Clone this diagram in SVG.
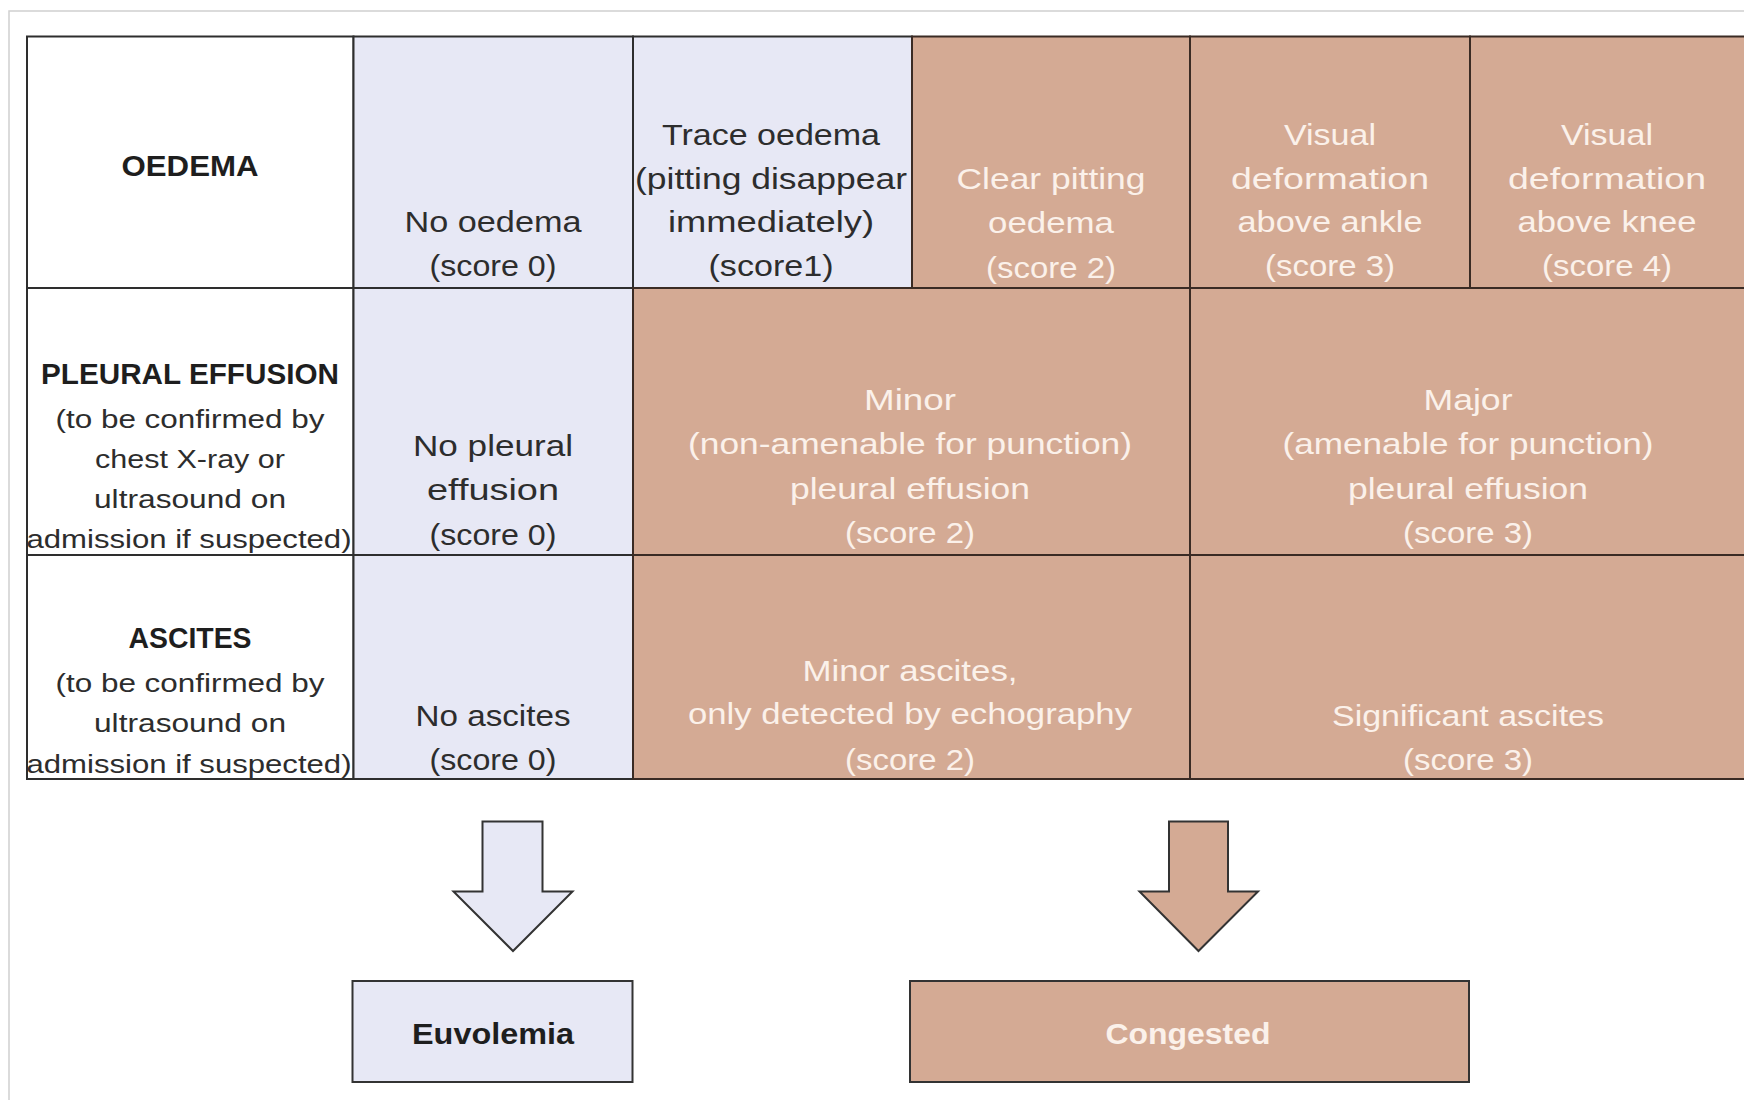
<svg xmlns="http://www.w3.org/2000/svg" width="1744" height="1100" viewBox="0 0 1744 1100">
<style>
.bg{fill:#ffffff}
.frame{fill:none;stroke:#d0d0d0;stroke-width:1.5}
.hdr{fill:#ffffff;stroke:#2e2e2e;stroke-width:2}
.lav{fill:#e7e8f5;stroke:#2e2e2e;stroke-width:2}
.tan{fill:#d4aa94;stroke:#3a2b24;stroke-width:2}
text{font-family:"Liberation Sans","Open Sans",Arial,sans-serif;text-anchor:middle}
.t{font-size:29px;fill:#2d2d2d}
.tw{font-size:29px;fill:#fbf1ea}
.s{font-size:26px;fill:#2d2d2d}
.b{font-size:29px;font-weight:bold;fill:#1e1e1e}
.bw{font-size:30px;font-weight:bold;fill:#fbf1ea}
.arrL{fill:#e7e8f5;stroke:#333;stroke-width:2;stroke-linejoin:miter}
.arrR{fill:#d4aa94;stroke:#333;stroke-width:2;stroke-linejoin:miter}
</style>
<rect class="bg" x="0" y="0" width="1744" height="1100"/>
<rect class="frame" x="9" y="11" width="1800" height="1200"/>

<g id="row-oedema">
  <g id="oedema-label"><rect class="hdr" x="27" y="36.5" width="326.5" height="251.5"/>
    <text class="b" x="190" y="176" textLength="137" lengthAdjust="spacingAndGlyphs">OEDEMA</text></g>
  <g id="oedema-0"><rect class="lav" x="353.5" y="36.5" width="279.5" height="251.5"/>
    <text class="t" x="493" y="232" textLength="177" lengthAdjust="spacingAndGlyphs">No oedema</text>
    <text class="t" x="493" y="276" textLength="127" lengthAdjust="spacingAndGlyphs">(score 0)</text></g>
  <g id="oedema-1"><rect class="lav" x="633" y="36.5" width="279" height="251.5"/>
    <text class="t" x="771" y="145" textLength="218" lengthAdjust="spacingAndGlyphs">Trace oedema</text>
    <text class="t" x="771" y="188.5" textLength="272" lengthAdjust="spacingAndGlyphs">(pitting disappear</text>
    <text class="t" x="771" y="232" textLength="206" lengthAdjust="spacingAndGlyphs">immediately)</text>
    <text class="t" x="771" y="276" textLength="125" lengthAdjust="spacingAndGlyphs">(score1)</text></g>
  <g id="oedema-2"><rect class="tan" x="912" y="36.5" width="278" height="251.5"/>
    <text class="tw" x="1051" y="189" textLength="189" lengthAdjust="spacingAndGlyphs">Clear pitting</text>
    <text class="tw" x="1051" y="232.5" textLength="126" lengthAdjust="spacingAndGlyphs">oedema</text>
    <text class="tw" x="1051" y="278" textLength="130" lengthAdjust="spacingAndGlyphs">(score 2)</text></g>
  <g id="oedema-3"><rect class="tan" x="1190" y="36.5" width="280" height="251.5"/>
    <text class="tw" x="1330" y="145" textLength="92" lengthAdjust="spacingAndGlyphs">Visual</text>
    <text class="tw" x="1330" y="188.5" textLength="198" lengthAdjust="spacingAndGlyphs">deformation</text>
    <text class="tw" x="1330" y="232" textLength="185" lengthAdjust="spacingAndGlyphs">above ankle</text>
    <text class="tw" x="1330" y="276" textLength="130" lengthAdjust="spacingAndGlyphs">(score 3)</text></g>
  <g id="oedema-4"><rect class="tan" x="1470" y="36.5" width="300" height="251.5"/>
    <text class="tw" x="1607" y="145" textLength="92" lengthAdjust="spacingAndGlyphs">Visual</text>
    <text class="tw" x="1607" y="188.5" textLength="198" lengthAdjust="spacingAndGlyphs">deformation</text>
    <text class="tw" x="1607" y="232" textLength="179" lengthAdjust="spacingAndGlyphs">above knee</text>
    <text class="tw" x="1607" y="276" textLength="130" lengthAdjust="spacingAndGlyphs">(score 4)</text></g>
</g>

<g id="row-pleural">
  <g id="pleural-label"><rect class="hdr" x="27" y="288" width="326.5" height="267"/>
    <text class="b" x="190" y="384" textLength="298" lengthAdjust="spacingAndGlyphs">PLEURAL EFFUSION</text>
    <text class="s" x="190" y="428" textLength="269" lengthAdjust="spacingAndGlyphs">(to be confirmed by</text>
    <text class="s" x="190" y="468" textLength="190" lengthAdjust="spacingAndGlyphs">chest X-ray or</text>
    <text class="s" x="190" y="508" textLength="192" lengthAdjust="spacingAndGlyphs">ultrasound on</text>
    <text class="s" x="189" y="548" textLength="325" lengthAdjust="spacingAndGlyphs">admission if suspected)</text></g>
  <g id="pleural-0"><rect class="lav" x="353.5" y="288" width="279.5" height="267"/>
    <text class="t" x="493" y="456" textLength="160" lengthAdjust="spacingAndGlyphs">No pleural</text>
    <text class="t" x="493" y="499.5" textLength="132" lengthAdjust="spacingAndGlyphs">effusion</text>
    <text class="t" x="493" y="545" textLength="127" lengthAdjust="spacingAndGlyphs">(score 0)</text></g>
  <g id="pleural-2"><rect class="tan" x="633" y="288" width="557" height="267"/>
    <text class="tw" x="910" y="410" textLength="92" lengthAdjust="spacingAndGlyphs">Minor</text>
    <text class="tw" x="910" y="454" textLength="444" lengthAdjust="spacingAndGlyphs">(non-amenable for punction)</text>
    <text class="tw" x="910" y="499" textLength="240" lengthAdjust="spacingAndGlyphs">pleural effusion</text>
    <text class="tw" x="910" y="543" textLength="130" lengthAdjust="spacingAndGlyphs">(score 2)</text></g>
  <g id="pleural-3"><rect class="tan" x="1190" y="288" width="580" height="267"/>
    <text class="tw" x="1468" y="410" textLength="89" lengthAdjust="spacingAndGlyphs">Major</text>
    <text class="tw" x="1468" y="454" textLength="371" lengthAdjust="spacingAndGlyphs">(amenable for punction)</text>
    <text class="tw" x="1468" y="499" textLength="240" lengthAdjust="spacingAndGlyphs">pleural effusion</text>
    <text class="tw" x="1468" y="543" textLength="130" lengthAdjust="spacingAndGlyphs">(score 3)</text></g>
</g>

<g id="row-ascites">
  <g id="ascites-label"><rect class="hdr" x="27" y="555" width="326.5" height="224"/>
    <text class="b" x="190" y="648" textLength="123" lengthAdjust="spacingAndGlyphs">ASCITES</text>
    <text class="s" x="190" y="692" textLength="269" lengthAdjust="spacingAndGlyphs">(to be confirmed by</text>
    <text class="s" x="190" y="732" textLength="192" lengthAdjust="spacingAndGlyphs">ultrasound on</text>
    <text class="s" x="189" y="773" textLength="325" lengthAdjust="spacingAndGlyphs">admission if suspected)</text></g>
  <g id="ascites-0"><rect class="lav" x="353.5" y="555" width="279.5" height="224"/>
    <text class="t" x="493" y="726" textLength="155" lengthAdjust="spacingAndGlyphs">No ascites</text>
    <text class="t" x="493" y="770" textLength="127" lengthAdjust="spacingAndGlyphs">(score 0)</text></g>
  <g id="ascites-2"><rect class="tan" x="633" y="555" width="557" height="224"/>
    <text class="tw" x="910" y="681" textLength="215" lengthAdjust="spacingAndGlyphs">Minor ascites,</text>
    <text class="tw" x="910" y="724" textLength="444" lengthAdjust="spacingAndGlyphs">only detected by echography</text>
    <text class="tw" x="910" y="770" textLength="130" lengthAdjust="spacingAndGlyphs">(score 2)</text></g>
  <g id="ascites-3"><rect class="tan" x="1190" y="555" width="580" height="224"/>
    <text class="tw" x="1468" y="726" textLength="272" lengthAdjust="spacingAndGlyphs">Significant ascites</text>
    <text class="tw" x="1468" y="770" textLength="130" lengthAdjust="spacingAndGlyphs">(score 3)</text></g>
</g>

<g id="connectors">
  <polygon id="arrow-euvolemia" class="arrL" points="482.5,821.5 542.5,821.5 542.5,891.5 572.5,891.5 513,951 453.5,891.5 482.5,891.5"/>
  <polygon id="arrow-congested" class="arrR" points="1169,821.5 1228,821.5 1228,891.5 1258,891.5 1198.5,951 1139.5,891.5 1169,891.5"/>
</g>

<g id="euvolemia"><rect class="lav" x="352.5" y="981" width="280" height="101" style="stroke:#333"/>
  <text class="b" x="493" y="1044" textLength="162" lengthAdjust="spacingAndGlyphs">Euvolemia</text></g>
<g id="congested"><rect class="tan" x="910" y="981" width="559" height="101" style="stroke:#333"/>
  <text class="bw" x="1188" y="1044" textLength="165" lengthAdjust="spacingAndGlyphs">Congested</text></g>
</svg>
